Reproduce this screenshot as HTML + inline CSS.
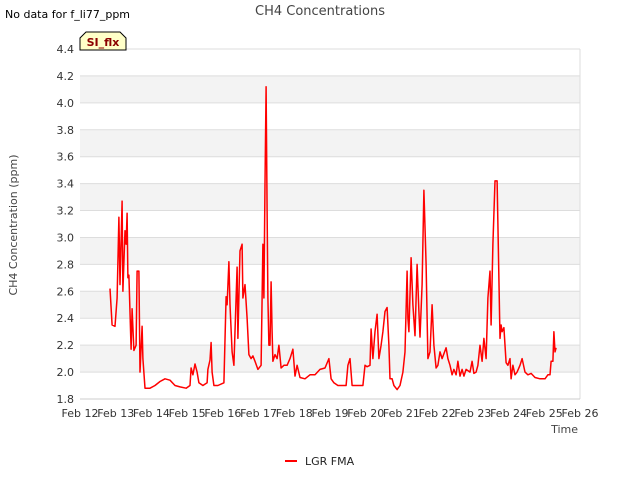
<!DOCTYPE html>
<html><head><meta charset="utf-8"><style>
body{margin:0;background:#fff;font-family:"DejaVu Sans","Liberation Sans",sans-serif}
svg text{font-family:"DejaVu Sans","Liberation Sans",sans-serif}
</style></head><body>
<svg id="chart" width="640" height="480" viewBox="0 0 640 480" xmlns="http://www.w3.org/2000/svg">
<rect width="640" height="480" fill="#fff"/>
<g id="bands"></g><g id="grid"></g><g id="ticks"></g>
<text x="320" y="15" text-anchor="middle" font-size="13" fill="#444">CH4 Concentrations</text>
<text x="5" y="18" font-size="11" fill="#000">No data for f_li77_ppm</text>
<g>
<path d="M80,50 L80,38 L86,32 L120,32 L126,38 L126,50 Z" fill="#ffffc8" stroke="#000" stroke-width="1"/>
<text x="103" y="46" text-anchor="middle" font-size="11" font-weight="bold" fill="#8b0000">SI_flx</text></g>
<text transform="translate(17,225) rotate(-90)" text-anchor="middle" font-size="11" fill="#444">CH4 Concentration (ppm)</text>
<text x="578" y="433" text-anchor="end" font-size="11" fill="#444">Time</text>
<path id="series" fill="none" stroke="#f00" stroke-width="1.5" stroke-linejoin="round"/>
<g><line x1="285" y1="461" x2="297" y2="461" stroke="#f00" stroke-width="2"/><text x="305" y="465" font-size="11" fill="#222">LGR FMA</text></g>
</svg>
<script>
const days=[0.84,0.90,0.98,1.04,1.09,1.12,1.18,1.20,1.26,1.29,1.32,1.34,1.37,1.43,1.46,1.51,1.57,1.60,1.65,1.68,1.74,1.76,1.82,1.96,2.10,2.24,2.38,2.52,2.66,2.80,2.97,3.08,3.11,3.16,3.22,3.28,3.33,3.44,3.56,3.58,3.64,3.67,3.70,3.75,3.86,4.03,4.09,4.12,4.17,4.20,4.26,4.31,4.40,4.42,4.48,4.54,4.56,4.62,4.68,4.73,4.79,4.84,4.90,4.98,5.07,5.12,5.15,5.18,5.21,5.24,5.26,5.29,5.32,5.35,5.38,5.40,5.46,5.52,5.57,5.63,5.71,5.80,5.88,5.96,6.02,6.08,6.16,6.30,6.44,6.58,6.72,6.86,6.97,7.03,7.11,7.22,7.34,7.45,7.50,7.56,7.62,7.70,7.84,7.92,7.98,8.04,8.12,8.15,8.20,8.26,8.32,8.37,8.43,8.48,8.54,8.60,8.65,8.68,8.74,8.79,8.88,8.96,9.04,9.10,9.16,9.18,9.21,9.27,9.32,9.38,9.44,9.49,9.52,9.58,9.63,9.69,9.74,9.80,9.86,9.91,9.97,10.02,10.08,10.14,10.25,10.30,10.36,10.42,10.47,10.53,10.58,10.64,10.70,10.75,10.81,10.92,10.98,11.03,11.09,11.14,11.20,11.26,11.31,11.37,11.42,11.48,11.51,11.56,11.62,11.68,11.70,11.76,11.79,11.82,11.87,11.93,11.98,12.04,12.07,12.12,12.18,12.24,12.32,12.38,12.46,12.54,12.63,12.74,12.88,13.02,13.10,13.16,13.19,13.24,13.27,13.30,13.33];
const ch4=[2.62,2.35,2.34,2.55,3.15,2.65,3.27,2.6,3.05,2.95,3.18,2.7,2.72,2.17,2.47,2.16,2.2,2.75,2.75,2.0,2.34,2.1,1.88,1.88,1.9,1.93,1.95,1.94,1.9,1.89,1.88,1.9,2.03,1.98,2.06,2.0,1.92,1.9,1.92,2.02,2.09,2.22,2.0,1.9,1.9,1.92,2.56,2.5,2.82,2.5,2.15,2.05,2.78,2.25,2.9,2.95,2.55,2.65,2.4,2.13,2.1,2.12,2.08,2.02,2.05,2.95,2.55,3.4,4.12,3.2,2.55,2.2,2.2,2.67,2.3,2.08,2.13,2.1,2.2,2.03,2.05,2.05,2.1,2.17,1.97,2.05,1.96,1.95,1.98,1.98,2.02,2.03,2.1,1.95,1.92,1.9,1.9,1.9,2.05,2.1,1.9,1.9,1.9,1.9,2.05,2.04,2.05,2.32,2.1,2.3,2.43,2.1,2.2,2.3,2.45,2.48,2.2,1.95,1.95,1.9,1.87,1.9,2.0,2.15,2.75,2.4,2.3,2.85,2.5,2.27,2.8,2.45,2.26,2.65,3.35,2.8,2.1,2.15,2.5,2.2,2.03,2.05,2.15,2.1,2.18,2.1,2.05,1.98,2.02,1.98,2.08,1.97,2.02,1.97,2.02,2.0,2.08,1.99,2.0,2.05,2.2,2.08,2.25,2.1,2.55,2.75,2.35,2.95,3.42,3.42,3.1,2.25,2.35,2.3,2.33,2.07,2.05,2.1,1.95,2.05,1.98,2.0,2.05,2.1,2.0,1.98,1.99,1.96,1.95,1.95,1.98,1.98,2.08,2.08,2.3,2.15,2.18];
const xTickLabels=["Feb 12","Feb 13","Feb 14","Feb 15","Feb 16","Feb 17","Feb 18","Feb 19","Feb 20","Feb 21","Feb 22","Feb 23","Feb 24","Feb 25","Feb 26"];
const yTicks=[1.8,2.0,2.2,2.4,2.6,2.8,3.0,3.2,3.4,3.6,3.8,4.0,4.2,4.4];
const L=80,R=580,T=49,B=399,ymin=1.8,ymax=4.4,xmax=14;
const sx=d=>L+(R-L)*d/xmax, sy=v=>B-(B-T)*(v-ymin)/(ymax-ymin);
const NS="http://www.w3.org/2000/svg";
function mk(tag,attrs,parent){const e=document.createElementNS(NS,tag);for(const k in attrs)e.setAttribute(k,attrs[k]);document.getElementById(parent).appendChild(e);return e;}
for(let i=0;i<yTicks.length-1;i++){
  if(i%2===1){const r=mk('rect',{x:L,y:sy(yTicks[i+1]),width:R-L,height:sy(yTicks[i])-sy(yTicks[i+1]),fill:'#f3f3f3'},'bands');
  
  }
}
yTicks.forEach(v=>{
  const g=mk('line',{x1:L,x2:R,y1:sy(v),y2:sy(v),stroke:'#ddd','stroke-width':1},'grid');
  
  
  const t=mk('text',{x:L-6,y:sy(v)+4,'text-anchor':'end','font-size':11,fill:'#333'},'ticks');
  
  
  t.textContent=v.toFixed(1);
});
mk('line',{x1:R,x2:R,y1:T,y2:B,stroke:'#ddd'},'grid');
mk('line',{x1:L,x2:R,y1:B,y2:B,stroke:'#ccc'},'grid');
xTickLabels.forEach((s,i)=>{
  const t=mk('text',{x:sx(i),y:B+18,'text-anchor':'middle','font-size':11,fill:'#333'},'ticks');
  
  
  t.textContent=s;
});
document.getElementById('series').setAttribute('d',days.map((d,i)=>(i?'L':'M')+sx(d).toFixed(1)+','+sy(ch4[i]).toFixed(1)).join(''));
</script>
</body></html>
